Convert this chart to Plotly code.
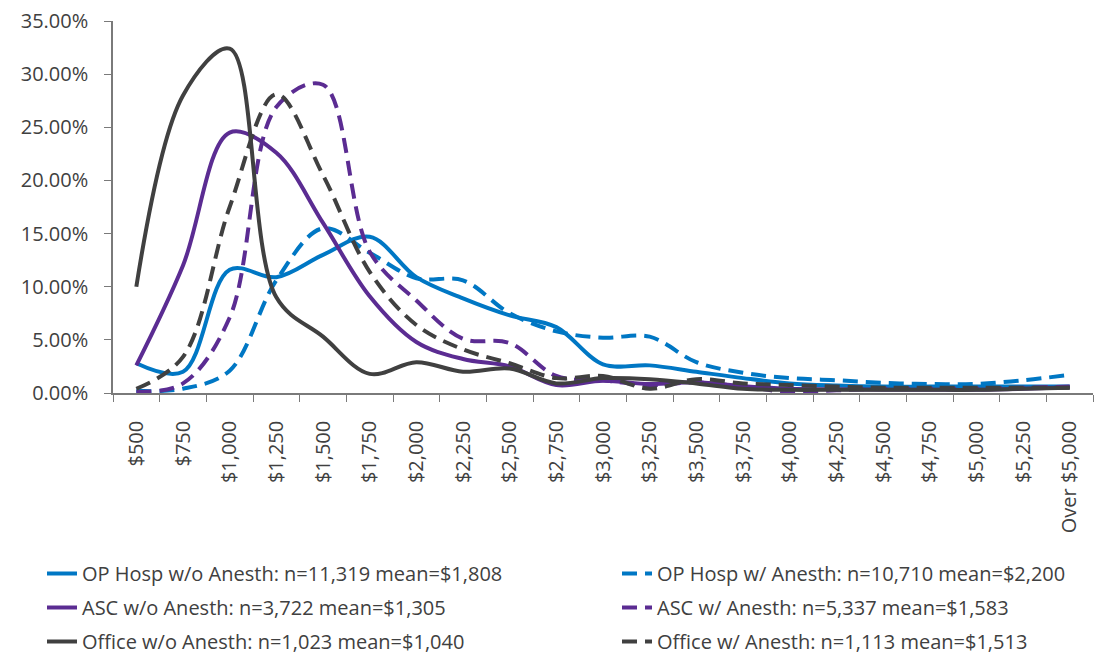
import plotly.graph_objects as go

categories = ["$500", "$750", "$1,000", "$1,250", "$1,500", "$1,750", "$2,000", "$2,250",
              "$2,500", "$2,750", "$3,000", "$3,250", "$3,500", "$3,750", "$4,000", "$4,250",
              "$4,500", "$4,750", "$5,000", "$5,250", "Over $5,000"]

op_wo = [2.8, 2.0, 11.6, 10.9, 13.0, 14.7, 10.9, 8.9, 7.3, 6.2, 2.7, 2.6, 2.0, 1.4, 0.9, 0.7, 0.6, 0.6, 0.6, 0.6, 0.6]
op_w = [0.2, 0.4, 2.1, 10.6, 15.5, 13.2, 10.8, 10.6, 7.5, 5.8, 5.2, 5.3, 2.9, 1.9, 1.4, 1.2, 0.95, 0.85, 0.85, 1.2, 1.7]
asc_wo = [2.6, 12.0, 24.5, 22.6, 16.0, 9.1, 4.8, 3.2, 2.5, 0.75, 1.15, 0.85, 1.0, 0.65, 0.4, 0.35, 0.3, 0.3, 0.3, 0.4, 0.55]
asc_w = [0.1, 0.9, 7.1, 26.9, 29.0, 13.3, 8.7, 5.1, 4.7, 1.6, 1.2, 0.75, 1.0, 0.6, 0.1, 0.25, 0.4, 0.4, 0.4, 0.5, 0.6]
office_wo = [10.0, 28.0, 32.4, 9.0, 5.3, 1.8, 2.9, 2.0, 2.3, 0.9, 1.4, 1.3, 0.9, 0.4, 0.3, 0.3, 0.3, 0.3, 0.3, 0.4, 0.5]
office_w = [0.4, 3.4, 17.5, 28.1, 20.5, 11.4, 6.4, 4.1, 2.8, 1.4, 1.6, 0.4, 1.3, 0.9, 0.75, 0.6, 0.5, 0.5, 0.5, 0.5, 0.5]

names = [
    "OP Hosp w/o Anesth: n=11,319 mean=$1,808",
    "OP Hosp w/ Anesth: n=10,710 mean=$2,200",
    "ASC w/o Anesth: n=3,722 mean=$1,305",
    "ASC w/ Anesth: n=5,337 mean=$1,583",
    "Office w/o Anesth: n=1,023 mean=$1,040",
    "Office w/ Anesth: n=1,113 mean=$1,513",
]

BLUE = "#0077C4"
PURPLE = "#5B2C92"
GRAY = "#404040"
TEXT = "#404040"
AXIS = "#7a7a7a"
FONT = "Open Sans"
FS = 20
W, H = 1112, 654

series = [
    (op_wo, names[0], BLUE, "solid", "legend"),
    (op_w, names[1], BLUE, "15px,8px", "legend2"),
    (asc_wo, names[2], PURPLE, "solid", "legend"),
    (asc_w, names[3], PURPLE, "15px,8px", "legend2"),
    (office_wo, names[4], GRAY, "solid", "legend"),
    (office_w, names[5], GRAY, "15px,8px", "legend2"),
]

fig = go.Figure()
for i, (vals, name, color, dash, leg) in enumerate(series):
    fig.add_trace(go.Scatter(
        x=categories, y=[v / 100 for v in vals], name=name, mode="lines",
        line=dict(color=color, width=4, dash=dash, shape="spline", smoothing=1),
        legend=leg, legendgroup=f"g{i}",
    ))

legend_common = dict(
    orientation="v", xref="container", yref="container", xanchor="left", yanchor="top",
    font=dict(family=FONT, size=FS, color=TEXT), tracegroupgap=5,
    bgcolor="rgba(0,0,0,0)", borderwidth=0,
)

fig.update_layout(
    width=W, height=H,
    margin=dict(l=105, r=27, t=13, b=269, autoexpand=False),
    paper_bgcolor="white", plot_bgcolor="white",
    font=dict(family=FONT, size=FS, color=TEXT),
    legend=dict(x=34 / W, y=1 - 546 / H, **legend_common),
    legend2=dict(x=609 / W, y=1 - 546 / H, **legend_common),
    showlegend=True,
)

fig.update_xaxes(
    type="category", range=[-0.5, 20.5], tickangle=-90,
    showline=True, linecolor=AXIS, linewidth=1.5,
    ticks="outside", ticklen=7, tickcolor=AXIS, tickson="boundaries",
    showgrid=False, zeroline=False,
    tickfont=dict(family=FONT, size=FS, color=TEXT),
    ticklabelstandoff=18, ticklabeloverflow="allow",
)
fig.update_yaxes(
    range=[0, 0.35], dtick=0.05, tickformat=".2%",
    showline=True, linecolor=AXIS, linewidth=1.5,
    ticks="outside", ticklen=7, tickcolor=AXIS,
    showgrid=False, zeroline=False,
    tickfont=dict(family=FONT, size=FS, color=TEXT),
    ticklabelstandoff=12, ticklabeloverflow="allow",
)

fig.write_html("out.html")
